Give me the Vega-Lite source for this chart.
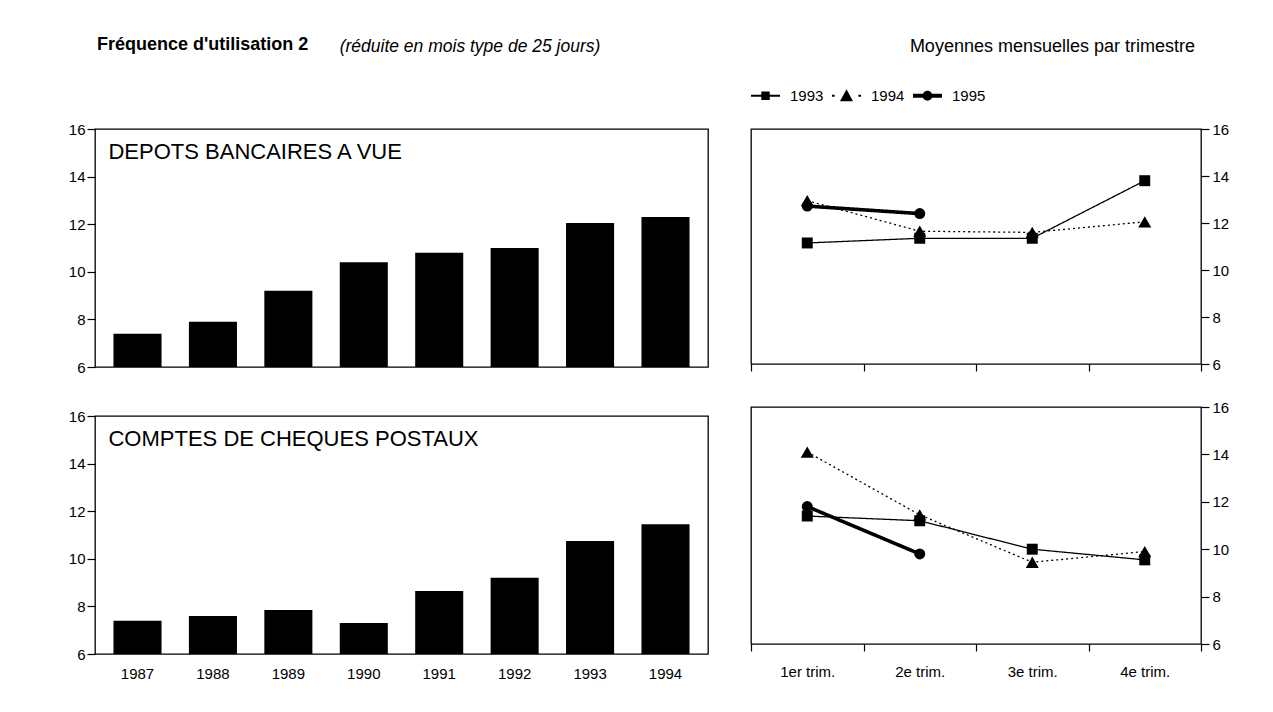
{
  "$schema": "https://vega.github.io/schema/vega-lite/v6.json",
  "padding": {"left": 67, "top": 35, "right": 5, "bottom": 5},
  "background": "white",
  "title": {"text": "(réduite en mois type de 25 jours)", "fontStyle": "italic", "fontWeight": "normal", "fontSize": 17.5, "anchor": "start", "dx": 272, "dy": 20, "offset": 0, "color": "black", "font": "Liberation Sans"},
  "datasets": {
    "depots": [
      {"year": "1987", "value": 7.4}, {"year": "1988", "value": 7.9}, {"year": "1989", "value": 9.2}, {"year": "1990", "value": 10.4},
      {"year": "1991", "value": 10.8}, {"year": "1992", "value": 11.0}, {"year": "1993", "value": 12.05}, {"year": "1994", "value": 12.3}
    ],
    "ccp": [
      {"year": "1987", "value": 7.4}, {"year": "1988", "value": 7.6}, {"year": "1989", "value": 7.85}, {"year": "1990", "value": 7.3},
      {"year": "1991", "value": 8.65}, {"year": "1992", "value": 9.2}, {"year": "1993", "value": 10.75}, {"year": "1994", "value": 11.45}
    ],
    "depotsQ": [
      {"year": "1993", "trim": "1er trim.", "value": 11.15}, {"year": "1993", "trim": "2e trim.", "value": 11.35}, {"year": "1993", "trim": "3e trim.", "value": 11.35}, {"year": "1993", "trim": "4e trim.", "value": 13.8},
      {"year": "1994", "trim": "1er trim.", "value": 12.95}, {"year": "1994", "trim": "2e trim.", "value": 11.65}, {"year": "1994", "trim": "3e trim.", "value": 11.6}, {"year": "1994", "trim": "4e trim.", "value": 12.05},
      {"year": "1995", "trim": "1er trim.", "value": 12.72}, {"year": "1995", "trim": "2e trim.", "value": 12.4}
    ],
    "ccpQ": [
      {"year": "1993", "trim": "1er trim.", "value": 11.4}, {"year": "1993", "trim": "2e trim.", "value": 11.2}, {"year": "1993", "trim": "3e trim.", "value": 10.0}, {"year": "1993", "trim": "4e trim.", "value": 9.55},
      {"year": "1994", "trim": "1er trim.", "value": 14.1}, {"year": "1994", "trim": "2e trim.", "value": 11.45}, {"year": "1994", "trim": "3e trim.", "value": 9.45}, {"year": "1994", "trim": "4e trim.", "value": 9.9},
      {"year": "1995", "trim": "1er trim.", "value": 11.8}, {"year": "1995", "trim": "2e trim.", "value": 9.8}
    ]
  },
  "hconcat": [
    {
      "vconcat": [
        {
          "width": 613, "height": 238,
          "title": {"text": "Fréquence d'utilisation 2", "anchor": "start", "frame": "group", "dx": 2, "offset": 68, "fontWeight": "bold", "fontSize": 18},
          "layer": [
            {
              "data": {"name": "depots"},
              "mark": {"type": "bar", "color": "black"},
              "encoding": {
                "x": {"field": "year", "type": "ordinal", "scale": {"paddingInner": 0.363, "paddingOuter": 0.245}, "axis": {"labels": false, "ticks": false, "title": null}},
                "y": {"field": "value", "type": "quantitative", "scale": {"domain": [6, 16], "zero": false, "nice": false}, "axis": {"values": [6, 8, 10, 12, 14, 16], "title": null, "tickSize": 8, "labelPadding": 2}},
                "y2": {"datum": 6}
              }
            },
            {
              "data": {"values": [{"label": "DEPOTS BANCAIRES A VUE"}]},
              "mark": {"type": "text", "align": "left", "baseline": "middle", "fontSize": 22, "dx": -5, "color": "black"},
              "encoding": {
                "x": {"datum": "1987", "type": "ordinal", "bandPosition": 0},
                "y": {"datum": 15.05, "type": "quantitative"},
                "text": {"field": "label"}
              }
            }
          ]
        },
        {
          "width": 613, "height": 238,
          "layer": [
            {
              "data": {"name": "ccp"},
              "mark": {"type": "bar", "color": "black"},
              "encoding": {
                "x": {"field": "year", "type": "ordinal", "scale": {"paddingInner": 0.363, "paddingOuter": 0.245}, "axis": {"labels": true, "ticks": false, "title": null, "labelPadding": 12, "labelAngle": 0}},
                "y": {"field": "value", "type": "quantitative", "scale": {"domain": [6, 16], "zero": false, "nice": false}, "axis": {"values": [6, 8, 10, 12, 14, 16], "title": null, "tickSize": 8, "labelPadding": 2}},
                "y2": {"datum": 6}
              }
            },
            {
              "data": {"values": [{"label": "COMPTES DE CHEQUES POSTAUX"}]},
              "mark": {"type": "text", "align": "left", "baseline": "middle", "fontSize": 22, "dx": -5, "color": "black"},
              "encoding": {
                "x": {"datum": "1987", "type": "ordinal", "bandPosition": 0},
                "y": {"datum": 15.05, "type": "quantitative"},
                "text": {"field": "label"}
              }
            }
          ]
        }
      ],
      "spacing": 32
    },
    {
      "vconcat": [
        {
          "width": 450, "height": 235,
          "title": {"text": "Moyennes mensuelles par trimestre", "anchor": "end", "frame": "group", "dx": -6, "offset": 25, "fontWeight": "normal", "fontSize": 18},
          "data": {"name": "depotsQ"},
          "layer": [
            {
              "mark": {"type": "line", "color": "black"},
              "encoding": {
                "x": {"field": "trim", "type": "ordinal", "sort": ["1er trim.", "2e trim.", "3e trim.", "4e trim."], "scale": {"type": "band", "paddingInner": 0, "paddingOuter": 0}, "bandPosition": 0.5, "axis": {"tickBand": "extent", "labels": false, "title": null, "tickSize": 7}},
                "y": {"field": "value", "type": "quantitative", "scale": {"domain": [6, 16], "zero": false, "nice": false}, "axis": {"orient": "right", "values": [6, 8, 10, 12, 14, 16], "title": null, "tickSize": 8, "labelPadding": 3}},
                "detail": {"field": "year", "type": "nominal"},
                "strokeDash": {"condition": {"test": "datum.year === '1994'", "value": [2, 3]}, "value": [1, 0]},
                "strokeWidth": {"condition": {"test": "datum.year === '1995'", "value": 3.6}, "value": 1.3}
              }
            },
            {
              "mark": {"type": "point", "filled": true, "color": "black", "opacity": 1},
              "encoding": {
                "x": {"field": "trim", "type": "ordinal", "sort": ["1er trim.", "2e trim.", "3e trim.", "4e trim."], "bandPosition": 0.5},
                "y": {"field": "value", "type": "quantitative"},
                "size": {"condition": {"test": "datum.year === '1994'", "value": 170}, "value": 120},
                "shape": {"field": "year", "type": "nominal", "scale": {"domain": ["1993", "1994", "1995"], "range": ["square", "triangle-up", "circle"]}, "legend": null}
              }
            },
            {
              "transform": [{"filter": "datum.value < 0"}],
              "mark": {"type": "point", "filled": true, "color": "black", "opacity": 1},
              "encoding": {
                "x": {"field": "trim", "type": "ordinal", "sort": ["1er trim.", "2e trim.", "3e trim.", "4e trim."], "bandPosition": 0.5},
                "y": {"field": "value", "type": "quantitative"},
                "shape": {"field": "year", "type": "nominal",
                  "scale": {"domain": ["1993", "1994", "1995"], "range": [
                    "M-1,-0.07H1V0.07H-1Z M-0.29,-0.29H0.29V0.29H-0.29Z",
                    "M-1,-0.07H-0.82V0.07H-1Z M0.82,-0.07H1V0.07H0.82Z M0,-0.45L0.45,0.38H-0.45Z",
                    "M-1,-0.13H1V0.13H-1Z M-0.34,0A0.34 0.34 0 1 1 0.34,0A0.34 0.34 0 1 1 -0.34,0Z"
                  ]},
                  "legend": {"orient": "top", "direction": "horizontal", "title": null, "symbolSize": 841, "symbolFillColor": "black", "symbolStrokeWidth": 0, "symbolOpacity": 1, "labelFontSize": 15, "labelOffset": 10, "columnPadding": 8, "offset": 25, "labelColor": "black"}
                }
              }
            }
          ],
          "resolve": {"scale": {"shape": "independent"}, "legend": {"shape": "independent"}}
        },
        {
          "width": 450, "height": 237,
          "data": {"name": "ccpQ"},
          "layer": [
            {
              "mark": {"type": "line", "color": "black"},
              "encoding": {
                "x": {"field": "trim", "type": "ordinal", "sort": ["1er trim.", "2e trim.", "3e trim.", "4e trim."], "scale": {"type": "band", "paddingInner": 0, "paddingOuter": 0}, "bandPosition": 0.5, "axis": {"tickBand": "extent", "labels": true, "title": null, "tickSize": 7, "labelPadding": 13, "labelAngle": 0}},
                "y": {"field": "value", "type": "quantitative", "scale": {"domain": [6, 16], "zero": false, "nice": false}, "axis": {"orient": "right", "values": [6, 8, 10, 12, 14, 16], "title": null, "tickSize": 8, "labelPadding": 3}},
                "detail": {"field": "year", "type": "nominal"},
                "strokeDash": {"condition": {"test": "datum.year === '1994'", "value": [2, 3]}, "value": [1, 0]},
                "strokeWidth": {"condition": {"test": "datum.year === '1995'", "value": 3.6}, "value": 1.3}
              }
            },
            {
              "mark": {"type": "point", "filled": true, "color": "black", "opacity": 1},
              "encoding": {
                "x": {"field": "trim", "type": "ordinal", "sort": ["1er trim.", "2e trim.", "3e trim.", "4e trim."], "bandPosition": 0.5},
                "y": {"field": "value", "type": "quantitative"},
                "size": {"condition": {"test": "datum.year === '1994'", "value": 170}, "value": 120},
                "shape": {"field": "year", "type": "nominal", "scale": {"domain": ["1993", "1994", "1995"], "range": ["square", "triangle-up", "circle"]}, "legend": null}
              }
            }
          ]
        }
      ],
      "spacing": 26,
      "resolve": {"scale": {"shape": "independent"}, "legend": {"shape": "independent"}}
    }
  ],
  "spacing": 40,
  "resolve": {"scale": {"shape": "independent"}, "legend": {"shape": "independent"}},
  "config": {
    "font": "Liberation Sans",
    "view": {"stroke": "black", "strokeWidth": 1.3},
    "axis": {"domain": false, "grid": false, "tickColor": "black", "tickWidth": 1.2, "labelColor": "black", "labelFont": "Liberation Sans", "labelFontSize": 15},
    "legend": {"labelFont": "Liberation Sans"},
    "title": {"font": "Liberation Sans", "color": "black"}
  }
}
